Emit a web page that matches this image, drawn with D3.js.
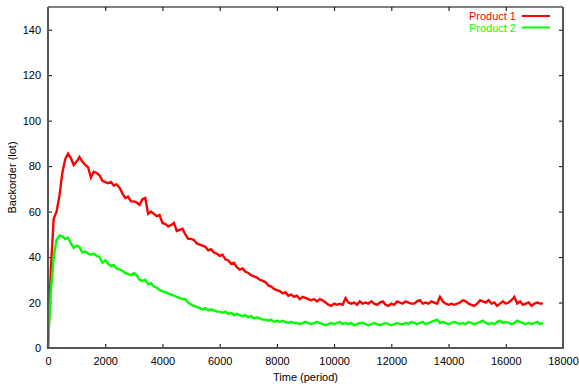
<!DOCTYPE html>
<html>
<head>
<meta charset="utf-8">
<script src="https://cdn.jsdelivr.net/npm/d3@7"></script>
<style>
  body { margin: 0; background: #fff; }
  svg { font-family: "Liberation Sans", Arial, sans-serif; }
  .tick text { font-size: 11px; fill: #000; }
  .tick line { stroke: #000; }
</style>
</head>
<body>
<svg></svg>
<script>
let periods = [
  0, 100, 200, 300, 400, 500, 600, 700, 800, 900,
  1000, 1100, 1200, 1300, 1400, 1500, 1600, 1700, 1800, 1900,
  2000, 2100, 2200, 2300, 2400, 2500, 2600, 2700, 2800, 2900,
  3000, 3100, 3200, 3300, 3400, 3500, 3600, 3700, 3800, 3900,
  4000, 4100, 4200, 4300, 4400, 4500, 4600, 4700, 4800, 4900,
  5000, 5100, 5200, 5300, 5400, 5500, 5600, 5700, 5800, 5900,
  6000, 6100, 6200, 6300, 6400, 6500, 6600, 6700, 6800, 6900,
  7000, 7100, 7200, 7300, 7400, 7500, 7600, 7700, 7800, 7900,
  8000, 8100, 8200, 8300, 8400, 8500, 8600, 8700, 8800, 8900,
  9000, 9100, 9200, 9300, 9400, 9500, 9600, 9700, 9800, 9900,
  10000, 10100, 10200, 10300, 10400, 10500, 10600, 10700, 10800, 10900,
  11000, 11100, 11200, 11300, 11400, 11500, 11600, 11700, 11800, 11900,
  12000, 12100, 12200, 12300, 12400, 12500, 12600, 12700, 12800, 12900,
  13000, 13100, 13200, 13300, 13400, 13500, 13600, 13700, 13800, 13900,
  14000, 14100, 14200, 14300, 14400, 14500, 14600, 14700, 14800, 14900,
  15000, 15100, 15200, 15300, 15400, 15500, 15600, 15700, 15800, 15900,
  16000, 16100, 16200, 16300, 16400, 16500, 16600, 16700, 16800, 16900,
  17000, 17100, 17200, 17300
]

let product1 = [
  0, 35, 57, 60, 67, 77, 83, 85.5, 83.5, 80.5,
  82, 84, 82, 80.5, 79.5, 75, 77.5, 77, 76, 73.5,
  73, 72.5, 73, 71.5, 72, 70.5, 68, 66, 66.5, 64.5,
  64.5, 64, 63, 65.5, 66, 59, 60, 59, 58, 58.5,
  55, 54.5, 53.5, 54, 55, 51.5, 52, 52.5, 50, 48,
  48, 47.5, 46, 45.5, 45, 44.5, 43, 43.5, 42, 41.5,
  40.5, 41, 39, 38.5, 37, 37.5, 35.5, 34.5, 35, 33.5,
  33, 32, 31.5, 31, 30, 29.5, 29, 27.5, 27, 26,
  25.5, 25, 24, 24.5, 23, 23.5, 22.5, 23, 21.5, 22.5,
  22, 21.5, 21, 21.5, 20.5, 21.5, 21, 20, 19, 18.5,
  19.5, 19, 19.5, 19, 22, 20, 19.5, 20, 19, 20.5,
  19.5, 20, 19.5, 20.5, 19.5, 19, 20, 20.5, 19, 18.5,
  19.5, 19, 20.5, 20, 19.5, 20.5, 20, 19.5, 19.5, 20.5,
  21, 19.5, 20, 19.5, 20.5, 20, 19.5, 22.5, 20.5, 19.5,
  19, 19.5, 19, 19.5, 20, 21, 20.5, 19.5, 19, 18.5,
  19.5, 21, 20.5, 20, 21, 19.5, 20, 18.5, 19.5, 20.5,
  19.5, 20, 21, 22.5, 19.5, 20.5, 19, 19.5, 20, 18.5,
  19.5, 20, 19.5, 19.5
]

let product2 = [
  0, 25, 40, 47.5, 49.5, 49, 48, 48.5, 46, 44,
  45, 44.5, 42, 42.5, 41.5, 41, 41.5, 40.5, 40, 37.5,
  38.5, 37, 36, 36.5, 35, 34.5, 34, 33, 32.5, 32,
  33, 32, 30, 29.5, 30, 28, 28.5, 27, 26.5, 25.5,
  25, 24.5, 24, 23.5, 23, 22.5, 22, 21.5, 21.5, 20,
  19, 18.5, 18, 17.5, 17, 17.5, 16.5, 17, 16.5, 16,
  16, 15.5, 16, 15, 15.5, 14.5, 15, 14.5, 14, 14.5,
  13.5, 14, 13, 13.5, 13, 12.5, 12.5, 12, 12.5, 11.5,
  12, 11.5, 12, 11.5, 11, 11.5, 11, 11, 10.5, 11,
  11.5, 11, 10.5, 11, 11.5, 11, 10.5, 10, 10.5, 11,
  10.5, 11, 11.5, 10.5, 11, 10.5, 11, 10, 10.5, 11,
  11, 10.5, 10, 10.5, 11, 10.5, 10, 10.5, 11, 10.5,
  10, 10.5, 11, 10.5, 10.5, 11, 10.5, 11.5, 11, 10.5,
  11, 11.5, 10.5, 11, 11.5, 12, 12.5, 11, 11.5, 11,
  10.5, 11, 11.5, 11, 10.5, 11, 10.5, 11.5, 11, 10.5,
  11, 11.5, 12, 11, 10.5, 11, 10.5, 11.5, 12, 11,
  11.5, 11, 10.5, 11, 12, 11.5, 11, 10.5, 11, 10.5,
  11, 11.5, 10.5, 11
]

let seriesNames = ['Product 1', 'Product 2']
let seriesColors = ['#ff0000', '#00ff00']
let xTicks = [0, 2000, 4000, 6000, 8000, 10000, 12000, 14000, 16000, 18000]
let yTicks = [0, 20, 40, 60, 80, 100, 120, 140]

let width = 579
let height = 387
let plotLeft = 48
let plotRight = 563
let plotTop = 7
let plotBottom = 348

let svg = d3.select('svg')
  .attr('width', width)
  .attr('height', height)

let xScale = d3.scaleLinear()
  .domain([0, 18000])
  .range([plotLeft, plotRight])

let yScale = d3.scaleLinear()
  .domain([0, 150])
  .range([plotBottom, plotTop])

// axes, gnuplot style: ticks point inward and are mirrored
let xAxis = d3.axisBottom(xScale).tickValues(xTicks).tickSize(-4).tickPadding(9).tickFormat(d3.format('d'))
let yAxis = d3.axisLeft(yScale).tickValues(yTicks).tickSize(-4).tickPadding(7).tickFormat(d3.format('d'))

svg.append('g')
  .attr('transform', 'translate(0,' + plotBottom + ')')
  .call(xAxis)
  .call(g => g.select('.domain').remove())

svg.append('g')
  .attr('transform', 'translate(' + plotLeft + ',0)')
  .call(yAxis)
  .call(g => g.select('.domain').remove())

svg.append('g')
  .attr('transform', 'translate(0,' + plotTop + ')')
  .call(d3.axisTop(xScale).tickValues(xTicks).tickSize(-4).tickFormat(''))
  .call(g => g.select('.domain').remove())

svg.append('g')
  .attr('transform', 'translate(' + plotRight + ',0)')
  .call(d3.axisRight(yScale).tickValues(yTicks).tickSize(-4).tickFormat(''))
  .call(g => g.select('.domain').remove())

// lines
let seriesData = [product1, product2]
let line = d3.line()
  .x((d, i) => xScale(periods[i]))
  .y(d => yScale(d))

seriesData.forEach((values, k) => {
  svg.append('path')
    .datum(values)
    .attr('fill', 'none')
    .attr('stroke', seriesColors[k])
    .attr('stroke-width', 2.4)
    .attr('stroke-linejoin', 'miter')
    .attr('d', line)
})

// border
svg.append('path')
  .attr('d', 'M' + plotLeft + ',' + plotTop + 'H' + plotRight)
  .attr('stroke', '#000').attr('stroke-width', 1).attr('fill', 'none')
svg.append('path')
  .attr('d', 'M' + plotRight + ',' + plotTop + 'V' + plotBottom + 'H' + plotLeft + 'V' + plotTop)
  .attr('stroke', '#555').attr('stroke-width', 2).attr('fill', 'none')

// axis titles
svg.append('text')
  .attr('x', (plotLeft + plotRight) / 2)
  .attr('y', 381)
  .attr('text-anchor', 'middle')
  .style('font-size', '11px')
  .text('Time (period)')

svg.append('text')
  .attr('transform', 'translate(16,' + (plotTop + plotBottom) / 2 + ') rotate(-90)')
  .attr('text-anchor', 'middle')
  .style('font-size', '11px')
  .text('Backorder (lot)')

// legend
seriesNames.forEach((name, k) => {
  let y = 16 + k * 11.5
  svg.append('text')
    .attr('x', 516)
    .attr('y', y + 4)
    .attr('text-anchor', 'end')
    .attr('fill', seriesColors[k])
    .style('font-size', '11px')
    .text(name)
  svg.append('line')
    .attr('x1', 522).attr('x2', 550)
    .attr('y1', y).attr('y2', y)
    .attr('stroke', seriesColors[k])
    .attr('stroke-width', 2)
})
</script>
</body>
</html>
